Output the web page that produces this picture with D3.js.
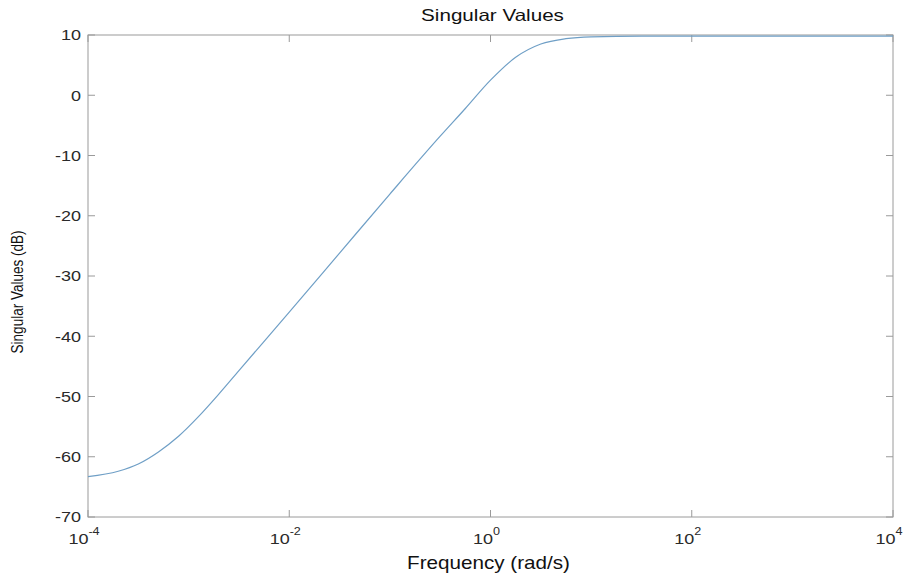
<!DOCTYPE html>
<html>
<head>
<meta charset="utf-8">
<script src="https://cdn.jsdelivr.net/npm/d3@7"></script>
<style>
  body { margin: 0; background: #fff; }
  text { font-family: "Liberation Sans", Arial, Helvetica, sans-serif; }
</style>
</head>
<body>
<div id="chart"></div>
<script>
// frequencies (rad/s) and singular values (dB)
const freqs = [1e-4, 1.995e-4, 3.162e-4, 5.012e-4, 7.943e-4, 1.259e-3, 1.995e-3, 3.162e-3,
  1e-2, 3.162e-2, 0.1, 0.3162, 0.5623, 1, 1.778, 3.162, 5.623, 10, 31.62, 100, 1000, 10000];
const svDb = [-63.3, -62.4, -61.2, -59.2, -56.6, -53.3, -49.6, -45.7,
  -36.0, -26.2, -16.4, -6.8, -2.2, 2.5, 6.3, 8.5, 9.4, 9.7, 9.8, 9.8, 9.8, 9.8];
const xTicks = [1e-4, 1e-2, 1, 1e2, 1e4];
const xExps = ['-4', '-2', '0', '2', '4'];
const yTicks = [10, 0, -10, -20, -30, -40, -50, -60, -70];

// svg領域
const svgWidth = 911;
const svgHeight = 582;
const svg = d3.select('#chart')
  .append('svg')
  .attr('width', svgWidth)
  .attr('height', svgHeight);

const margin = { top: 35, right: 18, bottom: 65, left: 88 };
const width = svgWidth - margin.left - margin.right;
const height = svgHeight - margin.top - margin.bottom;
const g = svg.append('g')
  .attr('transform', `translate(${margin.left},${margin.top})`);

const x = d3.scaleLog().domain([1e-4, 1e4]).range([0, width]);
const y = d3.scaleLinear().domain([-70, 10]).range([height, 0]);

const axisColor = '#9a9a9a';
const labelColor = '#2a2a2a';
const tickLen = 7;
const stretch = 1.2; // text in the scan is wider than it is tall

// box
g.append('rect')
  .attr('width', width)
  .attr('height', height)
  .attr('fill', 'none')
  .attr('stroke', axisColor)
  .attr('stroke-width', 1);

// x ticks (inward, bottom and top)
xTicks.forEach(v => {
  const px = x(v);
  g.append('line').attr('x1', px).attr('x2', px).attr('y1', height).attr('y2', height - tickLen)
    .attr('stroke', axisColor);
  g.append('line').attr('x1', px).attr('x2', px).attr('y1', 0).attr('y2', tickLen)
    .attr('stroke', axisColor);
});

// y ticks (inward, left and right)
yTicks.forEach(v => {
  const py = y(v);
  g.append('line').attr('x1', 0).attr('x2', tickLen).attr('y1', py).attr('y2', py)
    .attr('stroke', axisColor);
  g.append('line').attr('x1', width).attr('x2', width - tickLen).attr('y1', py).attr('y2', py)
    .attr('stroke', axisColor);
});

// y tick labels
g.selectAll('.ylab')
  .data(yTicks)
  .enter()
  .append('text')
  .attr('class', 'ylab')
  .attr('transform', d => `translate(-7,${y(d)}) scale(${stretch},1)`)
  .attr('dy', '0.36em')
  .attr('text-anchor', 'end')
  .attr('font-size', 15)
  .attr('fill', labelColor)
  .text(d => d);

// x tick labels: 10 with superscript exponent
xTicks.forEach((v, i) => {
  const t = g.append('text')
    .attr('transform', `translate(${x(v) - 4},${height + 27}) scale(${stretch},1)`)
    .attr('text-anchor', 'middle')
    .attr('font-size', 15)
    .attr('fill', labelColor);
  t.append('tspan').text('10');
  t.append('tspan')
    .attr('dy', -9)
    .attr('font-size', 10.5)
    .text(xExps[i]);
});

// curve
const pts = freqs.map((f, i) => [f, svDb[i]]);
const line = d3.line()
  .x(d => x(d[0]))
  .y(d => y(d[1]))
  .curve(d3.curveMonotoneX);

g.append('path')
  .datum(pts)
  .attr('fill', 'none')
  .attr('stroke', '#6f9fc6')
  .attr('stroke-width', 1.2)
  .attr('d', line);

// title and labels
svg.append('text')
  .attr('transform', `translate(${margin.left + width / 2 + 2},21) scale(1.25,1)`)
  .attr('text-anchor', 'middle')
  .attr('font-size', 16.5)
  .attr('fill', '#111')
  .text('Singular Values');

svg.append('text')
  .attr('transform', `translate(${margin.left + width / 2 - 2},569) scale(1.18,1)`)
  .attr('text-anchor', 'middle')
  .attr('font-size', 17.5)
  .attr('fill', '#111')
  .text('Frequency (rad/s)');

svg.append('text')
  .attr('transform', `translate(23,${margin.top + height / 2 + 16}) rotate(-90) scale(1,${stretch})`)
  .attr('text-anchor', 'middle')
  .attr('font-size', 13.5)
  .attr('fill', '#111')
  .text('Singular Values (dB)');
</script>
</body>
</html>
